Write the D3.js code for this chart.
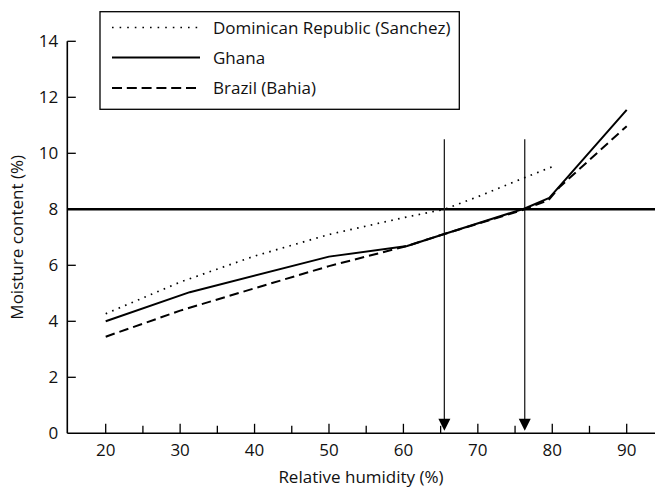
<!DOCTYPE html>
<html><head><meta charset="utf-8">
<script src="https://cdn.jsdelivr.net/npm/d3@7"></script>
<style>body{margin:0;background:#fff}svg{display:block}text{font-family:"Open Sans",sans-serif;fill:#111}</style>
</head><body><svg id="c" width="657" height="489"></svg>
<script>
const seriesNames = ["Dominican Republic (Sanchez)", "Ghana", "Brazil (Bahia)"];
const dominicanRH = [20, 30, 40, 50, 60, 65.5, 70, 76, 80];
const dominicanMC = [4.27, 5.4, 6.33, 7.1, 7.7, 8.0, 8.45, 9.1, 9.52];
const ghanaRH = [20, 31.3, 50, 60.5, 65.5, 76.3, 79.6, 90];
const ghanaMC = [4.0, 5.04, 6.31, 6.69, 7.12, 8.03, 8.41, 11.55];
const brazilRH = [20, 30, 40, 50, 60.5, 65.5, 76.3, 79.5, 81, 90];
const brazilMC = [3.45, 4.38, 5.18, 5.97, 6.69, 7.12, 8.0, 8.33, 8.8, 10.97];
const thresholdMC = 8;
const arrowRH = [65.5, 76.3];
const arrowTopMC = 10.5;
const xTicks = [20, 30, 40, 50, 60, 70, 80, 90];
const xMinorTicks = [25, 35, 45, 55, 65, 75, 85];
const yTicks = [0, 2, 4, 6, 8, 10, 12, 14];
const xTitle = "Relative humidity (%)";
const yTitle = "Moisture content (%)";

const svg = d3.select("#c");
const x = d3.scaleLinear().domain([20, 90]).range([105.7, 626.7]);
const y = d3.scaleLinear().domain([0, 14]).range([433.3, 41.3]);
const xLeft = 67.3, xRight = 655;
const FS = 17;

// axes
const xAxis = svg.append("g").attr("transform", `translate(0,${y(0)})`);
xAxis.append("line").attr("x1", xLeft).attr("x2", xRight).attr("stroke", "#000").attr("stroke-width", 1.6);
xAxis.selectAll(".mj").data(xTicks).join("line").attr("x1", d => x(d)).attr("x2", d => x(d)).attr("y1", 0).attr("y2", -9.5).attr("stroke", "#000").attr("stroke-width", 1.3);
xAxis.selectAll(".mn").data(xMinorTicks).join("line").attr("class","mn").attr("x1", d => x(d)).attr("x2", d => x(d)).attr("y1", 0).attr("y2", -7.5).attr("stroke", "#000").attr("stroke-width", 1.3);
xAxis.selectAll("text").data(xTicks).join("text").attr("x", d => x(d)).attr("y", 23).attr("text-anchor", "middle").attr("font-size", FS).text(d => d);

const yAxis = svg.append("g").attr("transform", `translate(${xLeft},0)`);
yAxis.append("line").attr("y1", y(0)).attr("y2", y(14)).attr("stroke", "#000").attr("stroke-width", 1.6);
yAxis.selectAll("line.t").data(yTicks.filter(d => d > 0)).join("line").attr("class","t").attr("x1", 0).attr("x2", 8.5).attr("y1", d => y(d)).attr("y2", d => y(d)).attr("stroke", "#000").attr("stroke-width", 1.3);
yAxis.selectAll("text").data(yTicks).join("text").attr("x", -9).attr("y", d => y(d)).attr("dy", "0.36em").attr("text-anchor", "end").attr("font-size", FS).text(d => d);

svg.append("text").attr("x", 361).attr("y", 483).attr("text-anchor", "middle").attr("font-size", FS).text(xTitle);
svg.append("text").attr("transform", `translate(23,${y(7)}) rotate(-90)`).attr("text-anchor", "middle").attr("font-size", FS).text(yTitle);

// threshold
svg.append("line").attr("x1", xLeft).attr("x2", xRight).attr("y1", y(thresholdMC)).attr("y2", y(thresholdMC)).attr("stroke", "#000").attr("stroke-width", 2.6);

// arrows
arrowRH.forEach(v => {
  svg.append("line").attr("x1", x(v)).attr("x2", x(v)).attr("y1", y(arrowTopMC)).attr("y2", y(0) - 14).attr("stroke", "#222").attr("stroke-width", 1.3);
  const cx = x(v), tip = y(0) - 2.5;
  svg.append("path").attr("d", `M${cx-6},${tip-12}L${cx+6},${tip-12}L${cx},${tip}Z`).attr("fill", "#000");
});

const styles = [
  {dash: "1.6,5.4", w: 1.7},
  {dash: null, w: 2},
  {dash: "9.5,5", w: 2}
];
const sets = [
  d3.zip(dominicanRH, dominicanMC),
  d3.zip(ghanaRH, ghanaMC),
  d3.zip(brazilRH, brazilMC)
];
const line = d3.line().x(d => x(d[0])).y(d => y(d[1]));
sets.forEach((s, i) => {
  svg.append("path").attr("d", line(s)).attr("fill", "none").attr("stroke", "#000")
    .attr("stroke-width", styles[i].w).attr("stroke-dasharray", styles[i].dash).attr("stroke-linejoin", "round");
});

// legend
const lg = svg.append("g");
lg.append("rect").attr("x", 100).attr("y", 11.7).attr("width", 359.3).attr("height", 97.6).attr("fill", "#fff").attr("stroke", "#000").attr("stroke-width", 1.3);
const rowY = [27.5, 57.5, 88];
seriesNames.forEach((n, i) => {
  lg.append("line").attr("x1", 112).attr("x2", 200).attr("y1", rowY[i]).attr("y2", rowY[i]).attr("stroke", "#000")
    .attr("stroke-width", styles[i].w).attr("stroke-dasharray", i === 0 ? "1.6,6" : (i === 2 ? "10,4.8" : null));
  lg.append("text").attr("x", 213).attr("y", rowY[i]).attr("dy", "0.36em").attr("font-size", FS).text(n);
});
</script></body></html>
